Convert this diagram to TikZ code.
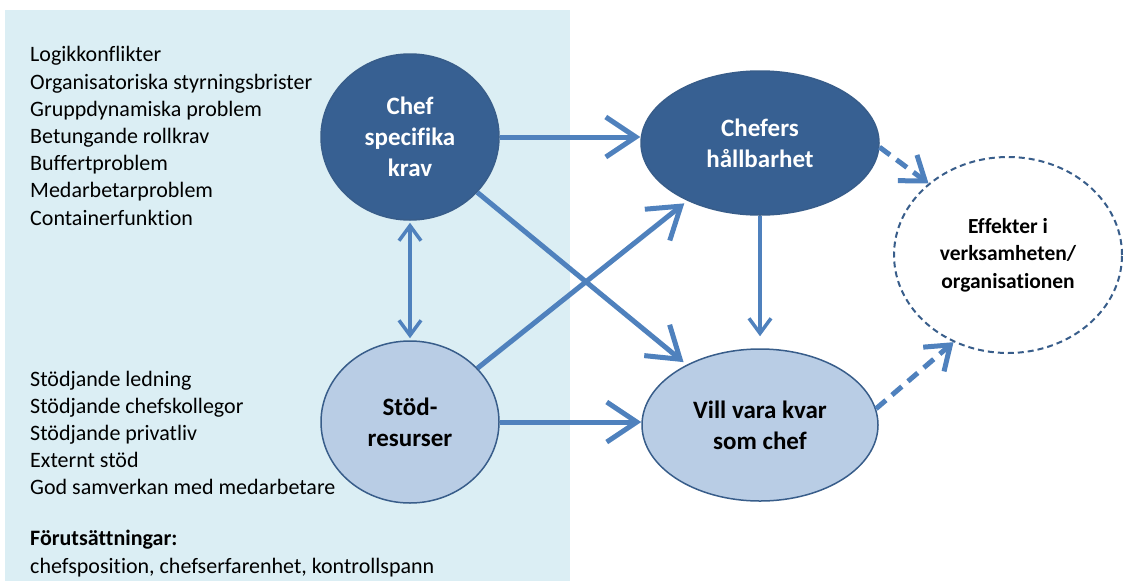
\documentclass[tikz,border=0pt]{standalone}
\usepackage{fontspec}
\setmainfont{Carlito}[Ligatures=NoCommon]
\usetikzlibrary{arrows.meta,shapes.geometric}
\definecolor{bgblue}{HTML}{DBEEF4}
\definecolor{darkfill}{HTML}{376092}
\definecolor{lightfill}{HTML}{B9CDE5}
\definecolor{rimcol}{HTML}{385D8A}
\definecolor{arrcol}{HTML}{4F81BD}
\tikzset{
  bignode/.style={ellipse, inner sep=0pt, line width=1.5pt, draw=rimcol, align=center},
  darknode/.style={bignode, fill=darkfill, text=white, font=\bfseries\fontsize{25}{31}\selectfont},
  lightnode/.style={bignode, fill=lightfill, text=black, font=\bfseries\fontsize{25}{31}\selectfont},
  effnode/.style={ellipse, inner sep=0pt, line width=2pt, draw=rimcol, dash pattern=on 6pt off 4pt, fill=white, align=center, font=\bfseries\fontsize{21.5}{27.5}\selectfont},
  listtext/.style={anchor=west, align=left, inner sep=0pt, font=\fontsize{22}{27.2}\selectfont},
  fatarrow/.style={draw=arrcol, line width=5pt, -{Straight Barb[length=30pt,width=40pt,line width=5pt]}},
  thinarrow/.style={draw=arrcol, line width=3.5pt, -{Straight Barb[length=15pt,width=22pt,line width=3.5pt]}},
  dasharrow/.style={draw=arrcol, line width=5pt, dash pattern=on 13pt off 8pt, -{Straight Barb[length=22pt,width=32pt,line width=5pt]}}
}
\begin{document}
\begin{tikzpicture}[x=1pt,y=-1pt]
\useasboundingbox (0,0) rectangle (1126,581);
\fill[bgblue] (5,10) rectangle (570,581);

\node[listtext] (demands) at (30,136) {Logikkonflikter\\Organisatoriska styrningsbrister\\Gruppdynamiska problem\\Betungande rollkrav\\Buffertproblem\\Medarbetarproblem\\Containerfunktion};
\node[listtext] (supports) at (30,433) {Stödjande ledning\\Stödjande chefskollegor\\Stödjande privatliv\\Externt stöd\\God samverkan med medarbetare};
\node[listtext] (prereq) at (30,553.5) {\textbf{Förutsättningar:}\\chefsposition, chefserfarenhet, kontrollspann};

\node[darknode, minimum width=178pt, minimum height=166pt] (chef) at (410,137) {Chef\\specifika\\krav};
\node[lightnode, minimum width=178pt, minimum height=162pt] (stod) at (410,422) {Stöd-\\resurser};
\node[darknode, minimum width=238pt, minimum height=144pt] (chefers) at (760,143) {Chefers\\hållbarhet};
\node[lightnode, minimum width=236pt, minimum height=152pt] (vill) at (760,425) {Vill vara kvar\\som chef};
\node[effnode, minimum width=228pt, minimum height=196pt] (eff) at (1008,255) {Effekter i\\verksamheten/\\organisationen};

\draw[fatarrow] (chef.east) -- (chef.east -| chefers.west);
\draw[fatarrow] (stod.east) -- (stod.east -| vill.west);
\draw[fatarrow, shorten >=4pt] (chef) -- (vill);
\draw[fatarrow, shorten >=4pt] (stod) -- (chefers);
\draw[thinarrow, {Straight Barb[length=15pt,width=22pt,line width=3.5pt]}-{Straight Barb[length=15pt,width=22pt,line width=3.5pt]}, shorten <=2pt, shorten >=2pt] (chef.south) -- (stod.north);
\draw[thinarrow, shorten >=12pt] (chefers.south) -- (vill.north);
\draw[dasharrow] (chefers.-2) -- (eff.138);
\draw[dasharrow] (vill.8) -- (eff.-122);
\end{tikzpicture}
\end{document}
